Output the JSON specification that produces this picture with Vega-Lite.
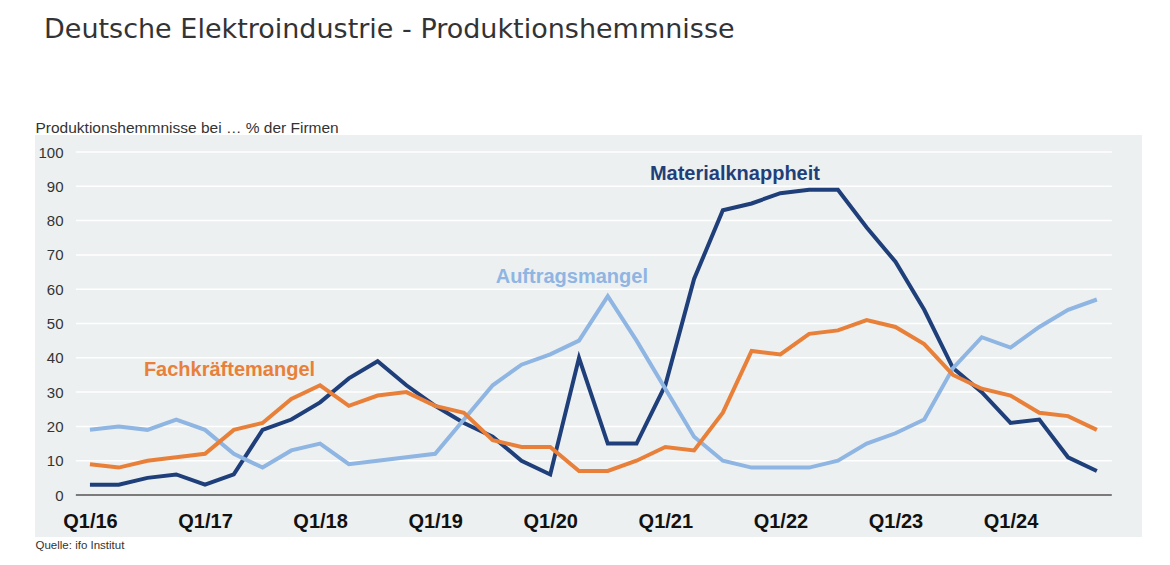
{
  "$schema": "https://vega.github.io/schema/vega-lite/v6.json",
  "autosize": {"type": "none"},
  "width": 1107,
  "height": 402,
  "padding": {"left": 35, "top": 135, "right": 28, "bottom": 28},
  "background": "white",
  "config": {
    "view": {"fill": "#edf0f0", "stroke": null},
    "font": "Liberation Sans"
  },
  "title": {
    "text": "Deutsche Elektroindustrie - Produktionshemmnisse",
    "anchor": "start",
    "frame": "group",
    "font": "DejaVu Sans",
    "fontSize": 27,
    "fontWeight": "normal",
    "color": "#333335",
    "baseline": "alphabetic",
    "offset": 55,
    "dx": 9
  },
  "datasets": {
    "series": [
      {"q": "Q1/16", "i": 0, "series": "Materialknappheit", "value": 3},
      {"q": "Q2/16", "i": 1, "series": "Materialknappheit", "value": 3},
      {"q": "Q3/16", "i": 2, "series": "Materialknappheit", "value": 5},
      {"q": "Q4/16", "i": 3, "series": "Materialknappheit", "value": 6},
      {"q": "Q1/17", "i": 4, "series": "Materialknappheit", "value": 3},
      {"q": "Q2/17", "i": 5, "series": "Materialknappheit", "value": 6},
      {"q": "Q3/17", "i": 6, "series": "Materialknappheit", "value": 19},
      {"q": "Q4/17", "i": 7, "series": "Materialknappheit", "value": 22},
      {"q": "Q1/18", "i": 8, "series": "Materialknappheit", "value": 27},
      {"q": "Q2/18", "i": 9, "series": "Materialknappheit", "value": 34},
      {"q": "Q3/18", "i": 10, "series": "Materialknappheit", "value": 39},
      {"q": "Q4/18", "i": 11, "series": "Materialknappheit", "value": 32},
      {"q": "Q1/19", "i": 12, "series": "Materialknappheit", "value": 26},
      {"q": "Q2/19", "i": 13, "series": "Materialknappheit", "value": 21},
      {"q": "Q3/19", "i": 14, "series": "Materialknappheit", "value": 17},
      {"q": "Q4/19", "i": 15, "series": "Materialknappheit", "value": 10},
      {"q": "Q1/20", "i": 16, "series": "Materialknappheit", "value": 6},
      {"q": "Q2/20", "i": 17, "series": "Materialknappheit", "value": 40},
      {"q": "Q3/20", "i": 18, "series": "Materialknappheit", "value": 15},
      {"q": "Q4/20", "i": 19, "series": "Materialknappheit", "value": 15},
      {"q": "Q1/21", "i": 20, "series": "Materialknappheit", "value": 32},
      {"q": "Q2/21", "i": 21, "series": "Materialknappheit", "value": 63},
      {"q": "Q3/21", "i": 22, "series": "Materialknappheit", "value": 83},
      {"q": "Q4/21", "i": 23, "series": "Materialknappheit", "value": 85},
      {"q": "Q1/22", "i": 24, "series": "Materialknappheit", "value": 88},
      {"q": "Q2/22", "i": 25, "series": "Materialknappheit", "value": 89},
      {"q": "Q3/22", "i": 26, "series": "Materialknappheit", "value": 89},
      {"q": "Q4/22", "i": 27, "series": "Materialknappheit", "value": 78},
      {"q": "Q1/23", "i": 28, "series": "Materialknappheit", "value": 68},
      {"q": "Q2/23", "i": 29, "series": "Materialknappheit", "value": 54},
      {"q": "Q3/23", "i": 30, "series": "Materialknappheit", "value": 37},
      {"q": "Q4/23", "i": 31, "series": "Materialknappheit", "value": 30},
      {"q": "Q1/24", "i": 32, "series": "Materialknappheit", "value": 21},
      {"q": "Q2/24", "i": 33, "series": "Materialknappheit", "value": 22},
      {"q": "Q3/24", "i": 34, "series": "Materialknappheit", "value": 11},
      {"q": "Q4/24", "i": 35, "series": "Materialknappheit", "value": 7},
      {"q": "Q1/16", "i": 0, "series": "Auftragsmangel", "value": 19},
      {"q": "Q2/16", "i": 1, "series": "Auftragsmangel", "value": 20},
      {"q": "Q3/16", "i": 2, "series": "Auftragsmangel", "value": 19},
      {"q": "Q4/16", "i": 3, "series": "Auftragsmangel", "value": 22},
      {"q": "Q1/17", "i": 4, "series": "Auftragsmangel", "value": 19},
      {"q": "Q2/17", "i": 5, "series": "Auftragsmangel", "value": 12},
      {"q": "Q3/17", "i": 6, "series": "Auftragsmangel", "value": 8},
      {"q": "Q4/17", "i": 7, "series": "Auftragsmangel", "value": 13},
      {"q": "Q1/18", "i": 8, "series": "Auftragsmangel", "value": 15},
      {"q": "Q2/18", "i": 9, "series": "Auftragsmangel", "value": 9},
      {"q": "Q3/18", "i": 10, "series": "Auftragsmangel", "value": 10},
      {"q": "Q4/18", "i": 11, "series": "Auftragsmangel", "value": 11},
      {"q": "Q1/19", "i": 12, "series": "Auftragsmangel", "value": 12},
      {"q": "Q2/19", "i": 13, "series": "Auftragsmangel", "value": 22},
      {"q": "Q3/19", "i": 14, "series": "Auftragsmangel", "value": 32},
      {"q": "Q4/19", "i": 15, "series": "Auftragsmangel", "value": 38},
      {"q": "Q1/20", "i": 16, "series": "Auftragsmangel", "value": 41},
      {"q": "Q2/20", "i": 17, "series": "Auftragsmangel", "value": 45},
      {"q": "Q3/20", "i": 18, "series": "Auftragsmangel", "value": 58},
      {"q": "Q4/20", "i": 19, "series": "Auftragsmangel", "value": 45},
      {"q": "Q1/21", "i": 20, "series": "Auftragsmangel", "value": 31},
      {"q": "Q2/21", "i": 21, "series": "Auftragsmangel", "value": 17},
      {"q": "Q3/21", "i": 22, "series": "Auftragsmangel", "value": 10},
      {"q": "Q4/21", "i": 23, "series": "Auftragsmangel", "value": 8},
      {"q": "Q1/22", "i": 24, "series": "Auftragsmangel", "value": 8},
      {"q": "Q2/22", "i": 25, "series": "Auftragsmangel", "value": 8},
      {"q": "Q3/22", "i": 26, "series": "Auftragsmangel", "value": 10},
      {"q": "Q4/22", "i": 27, "series": "Auftragsmangel", "value": 15},
      {"q": "Q1/23", "i": 28, "series": "Auftragsmangel", "value": 18},
      {"q": "Q2/23", "i": 29, "series": "Auftragsmangel", "value": 22},
      {"q": "Q3/23", "i": 30, "series": "Auftragsmangel", "value": 37},
      {"q": "Q4/23", "i": 31, "series": "Auftragsmangel", "value": 46},
      {"q": "Q1/24", "i": 32, "series": "Auftragsmangel", "value": 43},
      {"q": "Q2/24", "i": 33, "series": "Auftragsmangel", "value": 49},
      {"q": "Q3/24", "i": 34, "series": "Auftragsmangel", "value": 54},
      {"q": "Q4/24", "i": 35, "series": "Auftragsmangel", "value": 57},
      {"q": "Q1/16", "i": 0, "series": "Fachkräftemangel", "value": 9},
      {"q": "Q2/16", "i": 1, "series": "Fachkräftemangel", "value": 8},
      {"q": "Q3/16", "i": 2, "series": "Fachkräftemangel", "value": 10},
      {"q": "Q4/16", "i": 3, "series": "Fachkräftemangel", "value": 11},
      {"q": "Q1/17", "i": 4, "series": "Fachkräftemangel", "value": 12},
      {"q": "Q2/17", "i": 5, "series": "Fachkräftemangel", "value": 19},
      {"q": "Q3/17", "i": 6, "series": "Fachkräftemangel", "value": 21},
      {"q": "Q4/17", "i": 7, "series": "Fachkräftemangel", "value": 28},
      {"q": "Q1/18", "i": 8, "series": "Fachkräftemangel", "value": 32},
      {"q": "Q2/18", "i": 9, "series": "Fachkräftemangel", "value": 26},
      {"q": "Q3/18", "i": 10, "series": "Fachkräftemangel", "value": 29},
      {"q": "Q4/18", "i": 11, "series": "Fachkräftemangel", "value": 30},
      {"q": "Q1/19", "i": 12, "series": "Fachkräftemangel", "value": 26},
      {"q": "Q2/19", "i": 13, "series": "Fachkräftemangel", "value": 24},
      {"q": "Q3/19", "i": 14, "series": "Fachkräftemangel", "value": 16},
      {"q": "Q4/19", "i": 15, "series": "Fachkräftemangel", "value": 14},
      {"q": "Q1/20", "i": 16, "series": "Fachkräftemangel", "value": 14},
      {"q": "Q2/20", "i": 17, "series": "Fachkräftemangel", "value": 7},
      {"q": "Q3/20", "i": 18, "series": "Fachkräftemangel", "value": 7},
      {"q": "Q4/20", "i": 19, "series": "Fachkräftemangel", "value": 10},
      {"q": "Q1/21", "i": 20, "series": "Fachkräftemangel", "value": 14},
      {"q": "Q2/21", "i": 21, "series": "Fachkräftemangel", "value": 13},
      {"q": "Q3/21", "i": 22, "series": "Fachkräftemangel", "value": 24},
      {"q": "Q4/21", "i": 23, "series": "Fachkräftemangel", "value": 42},
      {"q": "Q1/22", "i": 24, "series": "Fachkräftemangel", "value": 41},
      {"q": "Q2/22", "i": 25, "series": "Fachkräftemangel", "value": 47},
      {"q": "Q3/22", "i": 26, "series": "Fachkräftemangel", "value": 48},
      {"q": "Q4/22", "i": 27, "series": "Fachkräftemangel", "value": 51},
      {"q": "Q1/23", "i": 28, "series": "Fachkräftemangel", "value": 49},
      {"q": "Q2/23", "i": 29, "series": "Fachkräftemangel", "value": 44},
      {"q": "Q3/23", "i": 30, "series": "Fachkräftemangel", "value": 35},
      {"q": "Q4/23", "i": 31, "series": "Fachkräftemangel", "value": 31},
      {"q": "Q1/24", "i": 32, "series": "Fachkräftemangel", "value": 29},
      {"q": "Q2/24", "i": 33, "series": "Fachkräftemangel", "value": 24},
      {"q": "Q3/24", "i": 34, "series": "Fachkräftemangel", "value": 23},
      {"q": "Q4/24", "i": 35, "series": "Fachkräftemangel", "value": 19}
    ],
    "grid": [
      {"v": 10}, {"v": 20}, {"v": 30}, {"v": 40}, {"v": 50},
      {"v": 60}, {"v": 70}, {"v": 80}, {"v": 90}, {"v": 100}
    ],
    "labels": [
      {"series": "Materialknappheit", "i": 22.42, "v": 91.8},
      {"series": "Auftragsmangel", "i": 16.75, "v": 61.8},
      {"series": "Fachkräftemangel", "i": 4.85, "v": 34.7}
    ]
  },
  "layer": [
    {
      "data": {"name": "grid"},
      "mark": {"type": "rule", "color": "#ffffff", "strokeWidth": 1.5},
      "encoding": {
        "y": {
          "field": "v",
          "type": "quantitative",
          "scale": {"domain": [-12.24, 104.96], "nice": false, "zero": false},
          "axis": {
            "values": [0, 10, 20, 30, 40, 50, 60, 70, 80, 90, 100],
            "grid": false,
            "ticks": false,
            "domain": false,
            "offset": -28,
            "labelPadding": 0,
            "labelFont": "Liberation Sans",
            "labelFontSize": 15,
            "labelColor": "#333333",
            "title": "Produktionshemmnisse bei … % der Firmen",
            "titleAngle": 0,
            "titleAlign": "left",
            "titleBaseline": "alphabetic",
            "titleX": -28,
            "titleY": -3,
            "titleFont": "Liberation Sans",
            "titleFontSize": 15.5,
            "titleFontWeight": "normal",
            "titleColor": "#333333"
          }
        },
        "x": {"datum": -0.49, "type": "quantitative"},
        "x2": {"datum": 35.52}
      }
    },
    {
      "data": {"values": [{"v": 0}]},
      "mark": {"type": "rule", "color": "#555555", "strokeWidth": 1.5},
      "encoding": {
        "y": {"field": "v", "type": "quantitative"},
        "x": {"datum": -0.49, "type": "quantitative"},
        "x2": {"datum": 35.52}
      }
    },
    {
      "data": {"name": "series"},
      "mark": {"type": "line", "strokeWidth": 4, "strokeJoin": "miter", "strokeCap": "butt"},
      "encoding": {
        "x": {
          "field": "i",
          "type": "quantitative",
          "scale": {"domain": [-1.91, 36.57], "nice": false, "zero": false},
          "axis": {
            "values": [0, 4, 8, 12, 16, 20, 24, 28, 32],
            "labelExpr": "'Q1/' + (16 + datum.value / 4)",
            "grid": false,
            "ticks": false,
            "domain": false,
            "offset": -26,
            "labelPadding": 0,
            "labelFont": "Liberation Sans",
            "labelFontSize": 20,
            "labelFontWeight": "bold",
            "labelColor": "#111111",
            "title": "Quelle: ifo Institut",
            "titleAlign": "left",
            "titleBaseline": "alphabetic",
            "titleX": 0,
            "titleY": 37,
            "titleFont": "Liberation Sans",
            "titleFontSize": 11.5,
            "titleFontWeight": "normal",
            "titleColor": "#333333"
          }
        },
        "y": {"field": "value", "type": "quantitative"},
        "color": {
          "field": "series",
          "type": "nominal",
          "scale": {
            "domain": ["Materialknappheit", "Auftragsmangel", "Fachkräftemangel"],
            "range": ["#1f3f7a", "#8fb5e3", "#e8803a"]
          },
          "legend": null
        },
        "detail": {"field": "series"}
      }
    },
    {
      "data": {"name": "labels"},
      "mark": {"type": "text", "font": "Liberation Sans", "fontSize": 20, "fontWeight": "bold", "align": "center", "baseline": "alphabetic"},
      "encoding": {
        "x": {"field": "i", "type": "quantitative"},
        "y": {"field": "v", "type": "quantitative"},
        "text": {"field": "series"},
        "color": {"field": "series", "type": "nominal", "legend": null}
      }
    }
  ]
}
